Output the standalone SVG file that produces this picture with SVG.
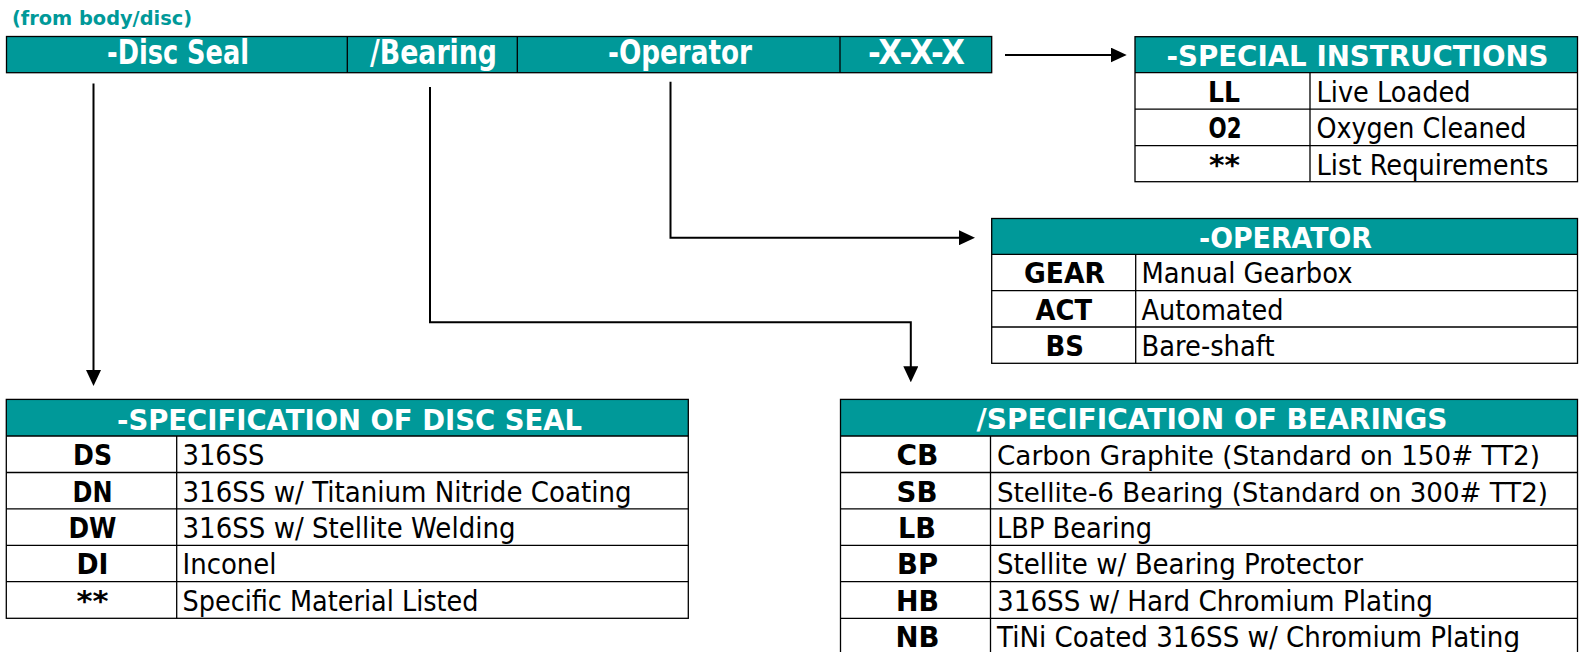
<svg xmlns="http://www.w3.org/2000/svg" width="1581" height="652" viewBox="0 0 1581 652">
<style>
text{font-family:"DejaVu Sans","Liberation Sans",sans-serif}
.hd{fill:#009999}
.bg{fill:#fff}
.ln{stroke:#000;stroke-width:1.3;fill:none}
.top{font-size:33px;font-weight:bold;fill:#fff;text-anchor:middle}
.th{font-size:29px;font-weight:bold;fill:#fff;text-anchor:middle}
.cd{font-size:29px;font-weight:bold;fill:#000;text-anchor:middle}
.tx{font-size:29px;fill:#000}
.sm{font-size:27px}
.cn{stroke:#000;stroke-width:2;fill:none}
</style>
<defs>
<marker id="ah" viewBox="0 0 16 15" refX="8" refY="7.5" markerWidth="16" markerHeight="15" markerUnits="userSpaceOnUse" orient="auto">
<path d="M0,0 L16,7.5 L0,15 z" fill="#000"/>
</marker>
</defs>
<rect width="1581" height="652" fill="#fff"/>

<text x="12" y="25" font-size="19" font-weight="bold" fill="#009999" textLength="180" lengthAdjust="spacingAndGlyphs">(from body/disc)</text>

<g id="code-bar">
<rect class="hd" x="6.5" y="36.5" width="985.2" height="36.2"/>
<rect class="ln" x="6.5" y="36.5" width="985.2" height="36.2"/>
<path class="ln" d="M347.3,36.5V72.7M517.3,36.5V72.7M840,36.5V72.7"/>
<text class="top" x="178" y="64" textLength="142" lengthAdjust="spacingAndGlyphs">-Disc Seal</text>
<text class="top" x="433.5" y="64" textLength="127" lengthAdjust="spacingAndGlyphs">/Bearing</text>
<text class="top" x="680" y="64" textLength="144" lengthAdjust="spacingAndGlyphs">-Operator</text>
<text class="top" x="916.5" y="64" textLength="97" lengthAdjust="spacingAndGlyphs">-X-X-X</text>
</g>

<g id="connectors">
<path class="cn" d="M93.5,83.5V378" marker-end="url(#ah)"/>
<path class="cn" d="M430,87V322.3H910.8V374.3" marker-end="url(#ah)"/>
<path class="cn" d="M670.5,81.7V237.7H967" marker-end="url(#ah)"/>
<path class="cn" d="M1005,55H1118.7" marker-end="url(#ah)"/>
</g>

<g id="special-instructions">
<rect class="hd" x="1135" y="36.7" width="442.5" height="36"/>
<rect class="bg" x="1135" y="72.7" width="442.5" height="109"/>
<rect class="ln" x="1135" y="36.7" width="442.5" height="145"/>
<path class="ln" d="M1135,72.7H1577.5M1135,109.2H1577.5M1135,145.6H1577.5M1310,72.7V181.7"/>
<text class="th" x="1357.5" y="65.5" textLength="382" lengthAdjust="spacingAndGlyphs">-SPECIAL INSTRUCTIONS</text>
<text class="cd" x="1224" y="101.7" textLength="32" lengthAdjust="spacingAndGlyphs">LL</text>
<text class="cd" x="1225" y="138.2" textLength="33" lengthAdjust="spacingAndGlyphs">O2</text>
<text class="cd" x="1224.5" y="174.5" textLength="31" lengthAdjust="spacingAndGlyphs">**</text>
<text class="tx" x="1316.5" y="101.7" textLength="154" lengthAdjust="spacingAndGlyphs">Live Loaded</text>
<text class="tx" x="1316.5" y="138.2" textLength="210" lengthAdjust="spacingAndGlyphs">Oxygen Cleaned</text>
<text class="tx" x="1316.5" y="174.5" textLength="232" lengthAdjust="spacingAndGlyphs">List Requirements</text>
</g>

<g id="operator">
<rect class="hd" x="991.7" y="218.5" width="585.8" height="35.8"/>
<rect class="bg" x="991.7" y="254.3" width="585.8" height="109"/>
<rect class="ln" x="991.7" y="218.5" width="585.8" height="144.8"/>
<path class="ln" d="M991.7,254.3H1577.5M991.7,290.6H1577.5M991.7,327H1577.5M1135.7,254.3V363.3"/>
<text class="th" x="1285.5" y="247.5" textLength="173" lengthAdjust="spacingAndGlyphs">-OPERATOR</text>
<text class="cd" x="1064.5" y="283.3" textLength="81" lengthAdjust="spacingAndGlyphs">GEAR</text>
<text class="cd" x="1063.8" y="319.6" textLength="56.5" lengthAdjust="spacingAndGlyphs">ACT</text>
<text class="cd" x="1064.8" y="356" textLength="38.5" lengthAdjust="spacingAndGlyphs">BS</text>
<text class="tx" x="1141.5" y="283.3" textLength="211" lengthAdjust="spacingAndGlyphs">Manual Gearbox</text>
<text class="tx" x="1141.5" y="319.6" textLength="142" lengthAdjust="spacingAndGlyphs">Automated</text>
<text class="tx" x="1141.5" y="356" textLength="133" lengthAdjust="spacingAndGlyphs">Bare-shaft</text>
</g>

<g id="disc-seal-spec">
<rect class="hd" x="6.3" y="399.4" width="682" height="36.6"/>
<rect class="bg" x="6.3" y="436" width="682" height="182.3"/>
<rect class="ln" x="6.3" y="399.4" width="682" height="218.9"/>
<path class="ln" d="M6.3,436H688.3M6.3,472.5H688.3M6.3,508.9H688.3M6.3,545.3H688.3M6.3,581.7H688.3M176.7,436V618.3"/>
<text class="th" x="349.5" y="430" textLength="465" lengthAdjust="spacingAndGlyphs">-SPECIFICATION OF DISC SEAL</text>
<text class="cd" x="92.5" y="465" textLength="39" lengthAdjust="spacingAndGlyphs">DS</text>
<text class="cd" x="92.5" y="501.5" textLength="40" lengthAdjust="spacingAndGlyphs">DN</text>
<text class="cd" x="92.5" y="538" textLength="48" lengthAdjust="spacingAndGlyphs">DW</text>
<text class="cd" x="92.5" y="574.3" textLength="32" lengthAdjust="spacingAndGlyphs">DI</text>
<text class="cd" x="92.5" y="610.7" textLength="32" lengthAdjust="spacingAndGlyphs">**</text>
<text class="tx" x="182.5" y="465" textLength="82" lengthAdjust="spacingAndGlyphs">316SS</text>
<text class="tx" x="182.5" y="501.5" textLength="449" lengthAdjust="spacingAndGlyphs">316SS w/ Titanium Nitride Coating</text>
<text class="tx" x="182.5" y="538" textLength="333" lengthAdjust="spacingAndGlyphs">316SS w/ Stellite Welding</text>
<text class="tx" x="182.5" y="574.3" textLength="94" lengthAdjust="spacingAndGlyphs">Inconel</text>
<text class="tx" x="182.5" y="610.7" textLength="296" lengthAdjust="spacingAndGlyphs">Specific Material Listed</text>
</g>

<g id="bearings-spec">
<rect class="hd" x="840.5" y="399.4" width="737" height="36.6"/>
<rect class="bg" x="840.5" y="436" width="737" height="218.7"/>
<rect class="ln" x="840.5" y="399.4" width="737" height="255.3"/>
<path class="ln" d="M840.5,436H1577.5M840.5,472.5H1577.5M840.5,508.9H1577.5M840.5,545.3H1577.5M840.5,581.7H1577.5M840.5,618.3H1577.5M990.5,436V654.7"/>
<text class="th" x="1212" y="429" textLength="471" lengthAdjust="spacingAndGlyphs">/SPECIFICATION OF BEARINGS</text>
<text class="cd" x="917.5" y="465" textLength="42" lengthAdjust="spacingAndGlyphs">CB</text>
<text class="cd" x="917" y="501.5" textLength="41" lengthAdjust="spacingAndGlyphs">SB</text>
<text class="cd" x="917" y="538" textLength="38" lengthAdjust="spacingAndGlyphs">LB</text>
<text class="cd" x="917.5" y="574.3" textLength="41" lengthAdjust="spacingAndGlyphs">BP</text>
<text class="cd" x="917.5" y="610.7" textLength="43" lengthAdjust="spacingAndGlyphs">HB</text>
<text class="cd" x="917.5" y="647" textLength="44" lengthAdjust="spacingAndGlyphs">NB</text>
<text class="tx sm" x="997" y="465" textLength="543" lengthAdjust="spacingAndGlyphs">Carbon Graphite (Standard on 150# TT2)</text>
<text class="tx sm" x="997" y="501.5" textLength="551" lengthAdjust="spacingAndGlyphs">Stellite-6 Bearing (Standard on 300# TT2)</text>
<text class="tx" x="997" y="538" textLength="155" lengthAdjust="spacingAndGlyphs">LBP Bearing</text>
<text class="tx" x="997" y="574.3" textLength="366" lengthAdjust="spacingAndGlyphs">Stellite w/ Bearing Protector</text>
<text class="tx" x="997" y="610.7" textLength="436" lengthAdjust="spacingAndGlyphs">316SS w/ Hard Chromium Plating</text>
<text class="tx" x="997" y="647" textLength="523" lengthAdjust="spacingAndGlyphs">TiNi Coated 316SS w/ Chromium Plating</text>
</g>
</svg>
